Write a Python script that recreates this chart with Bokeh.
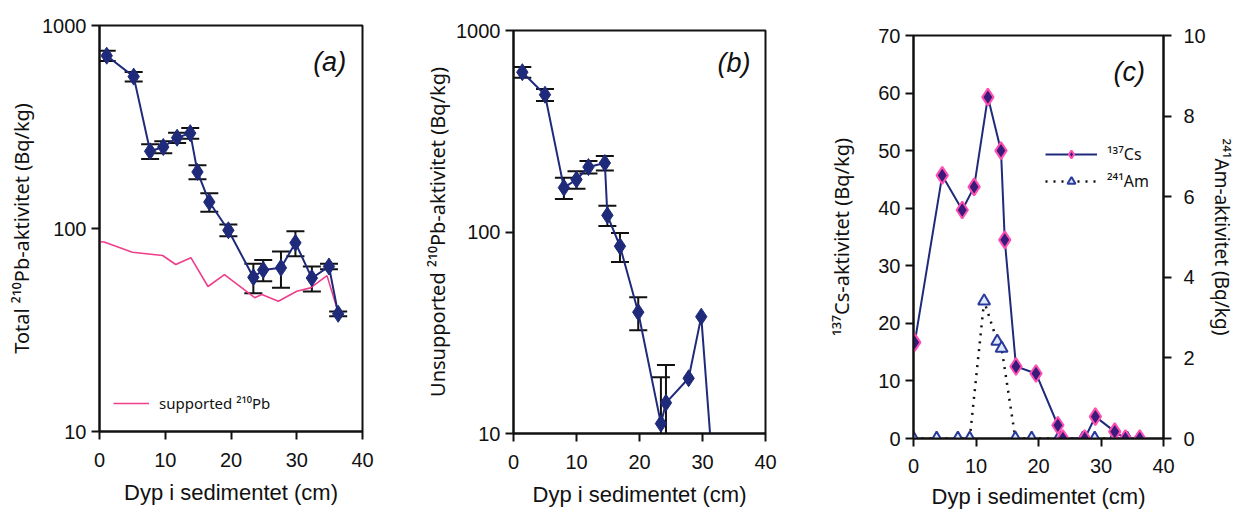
from bokeh.plotting import figure
from bokeh.layouts import row, column
from bokeh.models import (Range1d, FixedTicker, PrintfTickFormatter, Whisker, TeeHead,
                          ColumnDataSource, Legend, LegendItem, Label, LinearAxis)
from bokeh.embed import file_html
from bokeh.resources import INLINE

# ---------------- data ----------------
# (a) total 210Pb
depth_a = [1.1, 5.2, 7.7, 9.7, 11.8, 13.8, 14.9, 16.7, 19.6, 23.4, 24.9, 27.6, 29.8, 32.3, 34.9, 36.3]
total_pb = [710, 560, 240, 252, 280, 295, 190, 135, 98, 57.5, 62.5, 64, 85, 57, 65, 38]
total_err = [42, 30, 20, 17, 16, 18, 15, 14, 6.5, 9.5, 7.5, 13, 12, 8, 2, 1]
depth_sup = [0.0, 0.7, 5.0, 9.6, 11.6, 13.9, 16.5, 19.0, 23.6, 24.7, 27.2, 30.0, 32.1, 34.6, 36.3]
supported_pb = [86, 85.8, 76.4, 73.6, 66.5, 71.8, 51.8, 59.3, 45.6, 47.3, 43.8, 49.1, 51.0, 58.6, 38.7]

# (b) unsupported 210Pb
depth_b = [1.4, 5.0, 8.0, 10.0, 11.9, 14.5, 14.9, 16.9, 19.8, 23.4, 24.2, 27.8, 29.8, 32.3]
unsup_pb = [621, 480, 166, 182, 210, 220, 121, 85, 40, 11.2, 14.2, 18.8, 38, 3.5]
unsup_err = [38, 33, 20, 18, 15, 18, 14, 14, 7.5, 7.8, 7.7, 0, 0, 0]

# (c) 137Cs and 241Am
depth_c = [0.2, 4.6, 7.8, 9.7, 11.9, 14.0, 14.6, 16.4, 19.6, 23.1, 23.9, 27.4, 29.1, 32.2, 33.9, 36.2]
cs137 = [16.7, 45.7, 39.7, 43.7, 59.3, 50.0, 34.5, 12.5, 11.3, 2.3, 0, 0, 3.8, 1.2, 0, 0]
depth_am = [0.0, 3.7, 7.1, 9.0, 11.3, 13.4, 14.1, 16.3, 18.9, 23.2, 23.8, 27.1, 29.0, 32.1, 34.2, 36.1]
am241 = [0, 0, 0, 0, 3.41, 2.41, 2.24, 0, 0, 0, 0, 0, 0, 0, 0, 0]

x_ticks = [0, 10, 20, 30, 40]
log_ticks = [10, 100, 1000]
cs_ticks = [0, 10, 20, 30, 40, 50, 60, 70]
am_ticks = [0, 2, 4, 6, 8, 10]

XLABEL = "Dyp i sedimentet (cm)"
FONT = "Liberation Sans"
SUPFONT = "Noto Sans"
NAVY = "#1f2a7a"
PINK = "#ee3f8c"


def style_axis(ax):
    ax.axis_line_width = 2
    ax.axis_line_color = "#111111"
    ax.major_tick_line_width = 2
    ax.major_tick_line_color = "#111111"
    ax.major_tick_out = 8
    ax.major_tick_in = 0
    ax.minor_tick_line_color = None
    ax.major_label_text_font = FONT
    ax.major_label_text_font_size = "20px"
    ax.major_label_text_color = "#111111"
    ax.axis_label_text_font = SUPFONT
    ax.axis_label_text_font_size = "20px"
    ax.axis_label_text_font_style = "normal"
    ax.axis_label_text_color = "#111111"


def base_fig(width, height, y_type, y_range, bl, br, bt, bb):
    p = figure(width=width, height=height, x_range=Range1d(0, 40), y_range=y_range,
               y_axis_type=y_type, output_backend="svg", toolbar_location=None, title=None,
               min_border_left=bl, min_border_right=br, min_border_top=bt, min_border_bottom=bb)
    p.xgrid.visible = False
    p.ygrid.visible = False
    p.outline_line_color = "#111111"
    p.outline_line_width = 2
    p.outline_line_alpha = 1
    p.background_fill_color = "white"
    p.border_fill_color = "white"
    p.xaxis.ticker = FixedTicker(ticks=x_ticks)
    p.xaxis.axis_label = XLABEL
    for ax in p.xaxis + p.yaxis:
        style_axis(ax)
    p.xaxis.axis_label_text_font = FONT
    p.xaxis.axis_label_text_font_size = "22px"
    p.xaxis.major_label_standoff = 13
    p.xaxis.axis_label_standoff = 10
    return p


def add_errors(p, xs, ys, errs, lower_clip=None):
    src = ColumnDataSource(dict(x=[x for x, e in zip(xs, errs) if e > 0],
                                up=[y + e for y, e in zip(ys, errs) if e > 0],
                                lo=[max(y - e, lower_clip) if lower_clip else y - e for y, e in zip(ys, errs) if e > 0]))
    w = Whisker(source=src, base="x", upper="up", lower="lo", dimension="height",
                line_color="#111111", line_width=2,
                upper_head=TeeHead(size=18, line_color="#111111", line_width=2),
                lower_head=TeeHead(size=18, line_color="#111111", line_width=2))
    p.add_layout(w)


# ---------------- panel a ----------------
pa = base_fig(408, 510, "log", Range1d(10, 1000), 99, 46, 25, 79)
pa.yaxis.ticker = FixedTicker(ticks=log_ticks)
pa.yaxis.formatter = PrintfTickFormatter(format="%d")
pa.yaxis.axis_label = "Total \u00b2\u00b9\u2070Pb-aktivitet (Bq/kg)"
pa.yaxis.axis_label_standoff = 4
sup = pa.line(depth_sup, supported_pb, line_color=PINK, line_width=1.6)
add_errors(pa, depth_a, total_pb, total_err)
pa.line(depth_a, total_pb, line_color=NAVY, line_width=2)
pa.scatter(depth_a, total_pb, marker="diamond", size=17, fill_color=NAVY, line_color=NAVY)
leg_a = Legend(items=[LegendItem(label="supported \u00b2\u00b9\u2070Pb", renderers=[sup])],
               location=(14, 18), glyph_width=36, glyph_height=20, label_standoff=10,
               label_text_font=SUPFONT, label_text_font_size="15px", label_text_color="#111111",
               border_line_color=None, background_fill_alpha=0, padding=0, margin=0)
pa.add_layout(leg_a)
pa.add_layout(Label(x=35, y=660, text="(a)", text_font=FONT, text_font_size="27px",
                    text_font_style="italic", text_align="center", text_baseline="middle",
                    text_color="#111111"))

# ---------------- panel b ----------------
pb = base_fig(400, 510, "log", Range1d(10, 1000), 105, 43, 30, 77)
pb.yaxis.ticker = FixedTicker(ticks=log_ticks)
pb.yaxis.formatter = PrintfTickFormatter(format="%d")
pb.yaxis.axis_label = "Unsupported \u00b2\u00b9\u2070Pb-aktivitet (Bq/kg)"
pb.yaxis.axis_label_standoff = 2
add_errors(pb, depth_b, unsup_pb, unsup_err, lower_clip=1)
pb.line(depth_b, unsup_pb, line_color=NAVY, line_width=2)
pb.scatter(depth_b, unsup_pb, marker="diamond", size=17, fill_color=NAVY, line_color=NAVY)
pb.add_layout(Label(x=35, y=693, text="(b)", text_font=FONT, text_font_size="27px",
                    text_font_style="italic", text_align="center", text_baseline="middle",
                    text_color="#111111"))

# ---------------- panel c ----------------
pc = base_fig(429, 513, "linear", Range1d(0, 70), 105, 74, 35, 75)
pc.xaxis.major_label_standoff = 12
pc.xaxis.axis_label_standoff = 8
pc.yaxis.ticker = FixedTicker(ticks=cs_ticks)
pc.yaxis.axis_label = "\u00b9\u00b3\u2077Cs-aktivitet (Bq/kg)"
pc.yaxis.axis_label_standoff = 20
pc.extra_y_ranges = {"am": Range1d(0, 10)}
rax = LinearAxis(y_range_name="am", ticker=FixedTicker(ticks=am_ticks),
                 axis_label="\u00b2\u2074\u00b9Am-aktivitet (Bq/kg)")
style_axis(rax)
rax.axis_label_text_font_size = "19px"
rax.major_label_standoff = 12
rax.axis_label_standoff = 0
rax.axis_label_orientation = "vertical"
pc.add_layout(rax, "right")
am_line = pc.line(depth_am, am241, y_range_name="am", line_color="#111111",
                  line_width=2.5, line_dash="2 6")
am_pts = pc.scatter(depth_am, am241, y_range_name="am", marker="triangle", size=12,
                    fill_color="#dfe8ff", line_color="#2a3a9a", line_width=2)
cs_line = pc.line(depth_c, cs137, line_color=NAVY, line_width=2)
cs_pts = pc.scatter(depth_c, cs137, marker="diamond", size=17, fill_color="#3a1a7a",
                    line_color="#ff4fb0", line_width=2)
leg_c = Legend(items=[LegendItem(label="\u00b9\u00b3\u2077Cs", renderers=[cs_line, cs_pts]),
                      LegendItem(label="\u00b2\u2074\u00b9Am", renderers=[am_line, am_pts])],
               location=(132, 246), glyph_width=52, glyph_height=20, label_standoff=10,
               spacing=5, label_text_font=SUPFONT, label_text_font_size="16px",
               label_text_color="#111111", border_line_color=None,
               background_fill_alpha=0, padding=0, margin=0)
pc.add_layout(leg_c)
pc.add_layout(Label(x=34.5, y=63.6, text="(c)", text_font=FONT, text_font_size="27px",
                    text_font_style="italic", text_align="center", text_baseline="middle",
                    text_color="#111111"))

layout = row(column(pa), column(pb), column(pc), spacing=0)
open("out.html", "w").write(file_html(layout, INLINE))
